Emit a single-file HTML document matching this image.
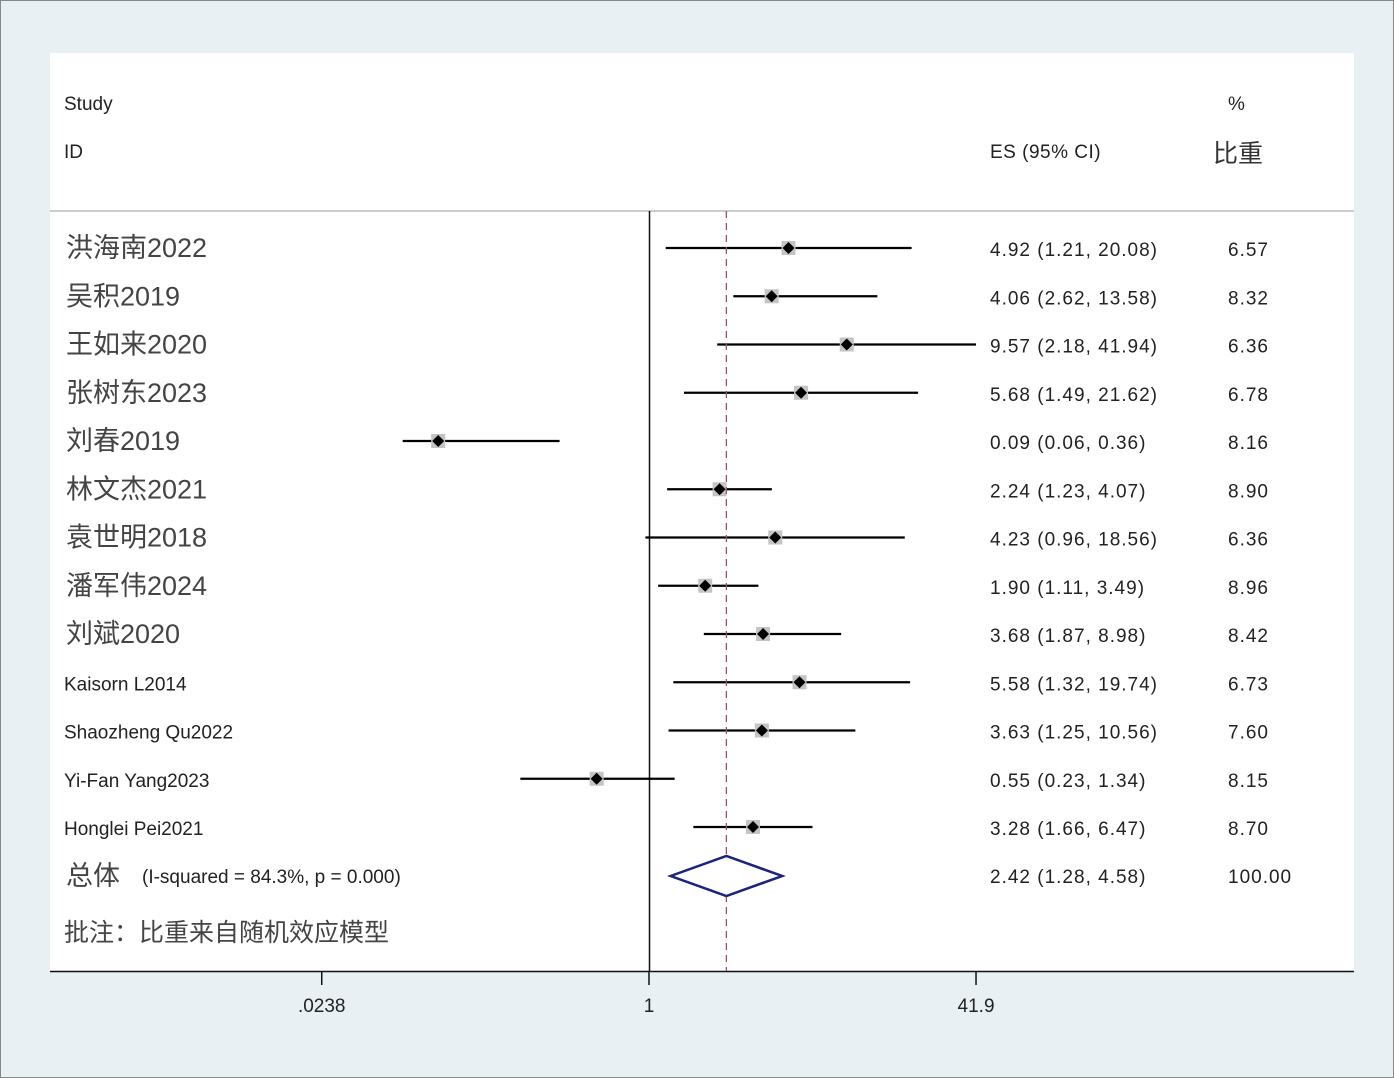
<!DOCTYPE html>
<html><head><meta charset="utf-8"><style>
body{margin:0;width:1394px;height:1078px;overflow:hidden;background:#e8f0f3;}
svg{display:block;font-family:"Liberation Sans","Noto Sans CJK SC",sans-serif;}
</style></head><body>
<svg id="chart" width="1394" height="1078">
<rect x="0.5" y="0.5" width="1393" height="1077" fill="#e8f0f3" stroke="#888"/>
<rect x="50" y="53" width="1304" height="918" fill="#fff"/>
<text x="64" y="110" font-size="19" fill="#222">Study</text>
<text x="64" y="158" font-size="19" fill="#222">ID</text>
<text x="990" y="158" font-size="19" fill="#222" letter-spacing="0.5">ES (95% CI)</text>
<text x="1228" y="110" font-size="19" fill="#222">%</text>
<text x="1213" y="162" font-size="25" fill="#333">比重</text>
<line x1="50" y1="211" x2="1354" y2="211" stroke="#bbb" stroke-width="1.5"/>
<line x1="649.5" y1="211" x2="649.5" y2="971" stroke="#111" stroke-width="1.5"/>
<line x1="50" y1="971.5" x2="1354" y2="971.5" stroke="#111" stroke-width="1.5"/>
<g id="marks"></g>
<text x="64" y="941" font-size="25" fill="#444">批注：比重来自随机效应模型</text>
</svg>
<script>
const studies=["洪海南2022","吴积2019","王如来2020","张树东2023","刘春2019","林文杰2021","袁世明2018","潘军伟2024","刘斌2020","Kaisorn L2014","Shaozheng Qu2022","Yi-Fan Yang2023","Honglei Pei2021"];
const es=[4.92,4.06,9.57,5.68,0.09,2.24,4.23,1.90,3.68,5.58,3.63,0.55,3.28];
const lo=[1.21,2.62,2.18,1.49,0.06,1.23,0.96,1.11,1.87,1.32,1.25,0.23,1.66];
const hi=[20.08,13.58,41.94,21.62,0.36,4.07,18.56,3.49,8.98,19.74,10.56,1.34,6.47];
const weights=["6.57","8.32","6.36","6.78","8.16","8.90","6.36","8.96","8.42","6.73","7.60","8.15","8.70"];
const esLabels=["4.92 (1.21, 20.08)","4.06 (2.62, 13.58)","9.57 (2.18, 41.94)","5.68 (1.49, 21.62)","0.09 (0.06, 0.36)","2.24 (1.23, 4.07)","4.23 (0.96, 18.56)","1.90 (1.11, 3.49)","3.68 (1.87, 8.98)","5.58 (1.32, 19.74)","3.63 (1.25, 10.56)","0.55 (0.23, 1.34)","3.28 (1.66, 6.47)"];
const overall=[2.42,1.28,4.58];
const overallLabel="2.42 (1.28, 4.58)";
const ticks=[0.0238,1,41.9];
const tickLabels=[".0238","1","41.9"];
</script>
<script>
const NS="http://www.w3.org/2000/svg";
const g=document.getElementById('marks');
const svg=document.getElementById('chart');
const xs=v=>649+Math.log(v)*87.55;
const ys=i=>248+i*48.25;
function mk(tag,at,parent){const e=document.createElementNS(NS,tag);for(const k in at)e.setAttribute(k,at[k]);(parent||g).appendChild(e);return e;}
studies.forEach((s,i)=>{
  const y=ys(i);
  const cjk=/[\u4e00-\u9fff]/.test(s);
  const t=mk('text',{x:cjk?66:64,y:cjk?y+9:y+8,'font-size':cjk?27:19,fill:cjk?'#444':'#222'});t.textContent=s;
  
  
  const l=mk('line',{x1:xs(lo[i]),x2:Math.min(xs(hi[i]),976),y1:y,y2:y,stroke:'#000','stroke-width':2.2});
  
  
  const x=xs(es[i]);
  const r=mk('rect',{x:x-7,y:y-7,width:14,height:14,fill:'#c4c4c4'});
  
  
  const d=mk('polygon',{points:`${x},${y-6} ${x+6},${y} ${x},${y+6} ${x-6},${y}`,fill:'#000'});
  
  
  const e=mk('text',{x:990,y:y+8,'font-size':19,fill:'#222','letter-spacing':1});e.textContent=esLabels[i];
  
  
  const w=mk('text',{x:1228,y:y+8,'font-size':19,fill:'#222','letter-spacing':1});w.textContent=weights[i];
  
  
});
const oy=876;
const dl=mk('line',{x1:xs(overall[0]),x2:xs(overall[0]),y1:211,y2:971,stroke:'#a05060','stroke-width':1.3,'stroke-dasharray':'7,5'});


const dia=mk('polygon',{points:`${xs(overall[1])},${oy} ${xs(overall[0])},${oy-20} ${xs(overall[2])},${oy} ${xs(overall[0])},${oy+20}`,fill:'#fff',stroke:'#1a237e','stroke-width':2.5});


const ot=mk('text',{x:66,y:oy+9,fill:'#444','font-size':27});ot.textContent='总体';


const ot2=mk('text',{x:142,y:oy+7,fill:'#222','font-size':19});ot2.textContent='(I-squared = 84.3%, p = 0.000)';


const oe=mk('text',{x:990,y:oy+7,'font-size':19,fill:'#222','letter-spacing':1});oe.textContent=overallLabel;


const ow=mk('text',{x:1228,y:oy+7,'font-size':19,fill:'#222','letter-spacing':1});ow.textContent='100.00';


ticks.forEach((v,i)=>{
  const x=xs(v);
  const tk=mk('line',{x1:x,x2:x,y1:971,y2:985,stroke:'#111','stroke-width':1.5},svg);
  
  
  const tl=mk('text',{x:x,y:1012,'font-size':19,fill:'#222','text-anchor':'middle'},svg);tl.textContent=tickLabels[i];
  
  
});
</script>
</body></html>
